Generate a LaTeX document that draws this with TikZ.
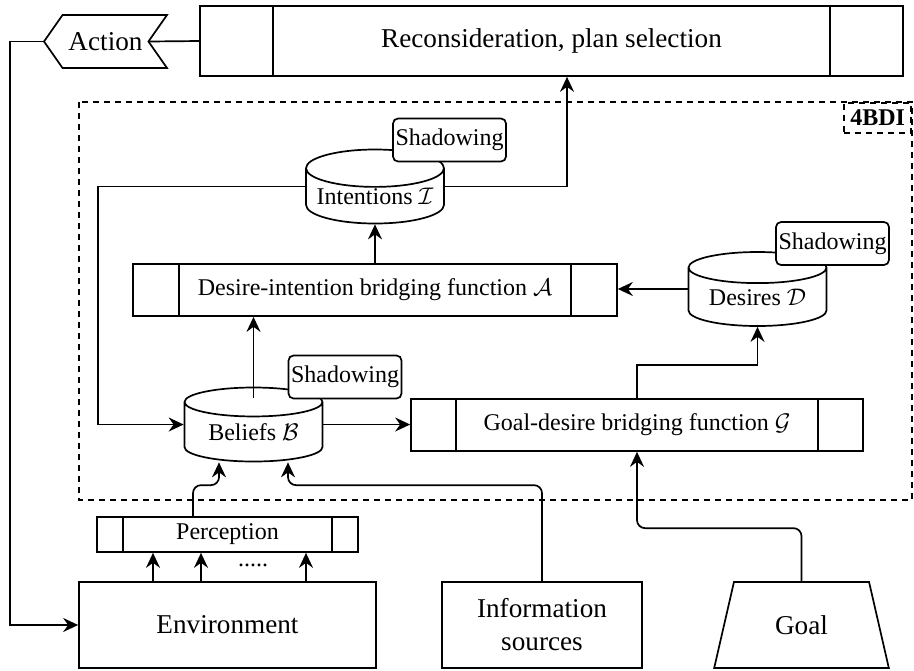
\documentclass[tikz,border=0pt]{standalone}
\usepackage{fontspec}
\setmainfont{Liberation Serif}
\usepackage{tikz}
\usetikzlibrary{positioning, shapes.geometric, shapes.symbols, arrows.meta, calc}

\newcommand{\normaltext}{\fontsize{12}{14}\selectfont}
\newcommand{\bigtext}{\fontsize{13.6}{16.5}\selectfont}

\begin{document}
\begin{tikzpicture}[x=0.5pt, y=-0.5pt, line width=0.85pt,
    every node/.style={font=\normaltext},
    arr/.style={-{Stealth[length=7.5pt, width=7pt, inset=2.5pt]}},
    bridge/.style={draw, rectangle, inner sep=0pt, path picture={
        \draw ([xshift=#1]path picture bounding box.north west) -- ([xshift=#1]path picture bounding box.south west)
              ([xshift=-#1]path picture bounding box.north east) -- ([xshift=-#1]path picture bounding box.south east);}},
    store/.style={draw, cylinder, shape border rotate=90, aspect=0.32, minimum width=69pt, minimum height=37pt, inner sep=0pt, anchor=shape center},
    shadowtag/.style={draw, fill=white, rounded corners=2.5pt, minimum width=56.5pt, minimum height=21.5pt, inner sep=0pt},
    block/.style={draw, minimum height=43pt, inner sep=0pt, font=\bigtext, align=center}]
      \useasboundingbox (0,0) rectangle (914,670);

      % Top row
      \node[bridge=36.5pt, minimum width=351.5pt, minimum height=35pt, font=\bigtext] (recon) at (551.5,41) {Reconsideration, plan selection};
      \node[draw, signal, signal to=west, signal from=east, signal pointer angle=110, minimum width=61.5pt, minimum height=26.5pt, inner sep=0pt, font=\bigtext] (action) at (105.5,41.5) {Action};

      % 4BDI frame
      \draw[dash pattern=on 3pt off 2.5pt] (79,102) rectangle (912,500);
      \node[draw, dash pattern=on 3pt off 2.5pt, anchor=north east, minimum width=33.5pt, minimum height=15pt, inner sep=1pt, font=\bfseries\normaltext] (tag) at (912,102) {4BDI};

      % Belief, desire and intention stores
      \node[store] (intentions) at (375,186.5) {Intentions $\mathcal{I}$};
      \node[store] (desires) at (757.5,289) {Desires $\mathcal{D}$};
      \node[store] (beliefs) at (253.5,424.5) {Beliefs $\mathcal{B}$};
      \node[shadowtag] (shI) at (449.5,140) {Shadowing};
      \node[shadowtag] (shD) at (832.5,243.5) {Shadowing};
      \node[shadowtag] (shB) at (345,377) {Shadowing};

      % Bridging functions
      \node[bridge=23pt, minimum width=242pt, minimum height=26pt] (dib) at (375,290) {Desire-intention bridging function $\mathcal{A}$};
      \node[bridge=22.5pt, minimum width=226pt, minimum height=26pt] (gdb) at (637,425) {Goal-desire bridging function $\mathcal{G}$};
      \node[bridge=13pt, minimum width=130.5pt, minimum height=17.5pt] (perception) at (227.5,534.5) {Perception};

      % Bottom row
      \node[block, minimum width=148.5pt] (env) at (227.5,625) {Environment};
      \node[block, minimum width=100pt] (info) at (542,625) {Information\\sources};
      \node[draw, trapezium, trapezium stretches=true, trapezium left angle=68, trapezium right angle=68, minimum width=87.5pt, minimum height=43pt, inner sep=0pt, font=\bigtext] (goal) at (801.5,625) {Goal};
      \node (dots) at (253,565) {.....};

      % Connectors
      \coordinate (loop) at (10,41.5);
      \coordinate (fb) at (98,186.5);
      \draw (recon.west) -- (action.east);
      \draw[arr] (action.west) -- (loop) |- (env.west);
      \draw[arr] (intentions.shape center -| intentions.west) -- (fb) |- (beliefs.shape center -| beliefs.west);
      \draw[arr] (intentions.shape center -| intentions.east) -| ([xshift=7.75pt]recon.south);
      \draw[arr] (dib.north) -- (intentions.south);
      \draw[arr] ([yshift=-5.5pt]beliefs.north) -- (beliefs.north |- dib.south);
      \draw[arr] (desires.shape center -| desires.west) -- (desires.shape center -| dib.east);
      \draw[arr] (beliefs.shape center -| beliefs.east) -- (beliefs.shape center -| gdb.west);
      \draw[arr] (gdb.north) -- ++(0,-33) -| (desires.south);
      \draw[arr, rounded corners=4pt] (goal.north) -- ++(0,-53) -| (gdb.south);
      \draw[arr, rounded corners=4pt] (info.north) -- ++(0,-96) -| ([xshift=17.25pt]beliefs.south);
      \draw[arr, rounded corners=4pt] ([xshift=-17.25pt]perception.north) -- ++(0,-31) -| ([xshift=-17.25pt]beliefs.south);
      \foreach \dx in {-37.25,-13.25,39.25}
        \draw[arr] ([xshift=\dx pt]env.north) -- ([xshift=\dx pt]perception.south);
    \end{tikzpicture}
\end{document}
